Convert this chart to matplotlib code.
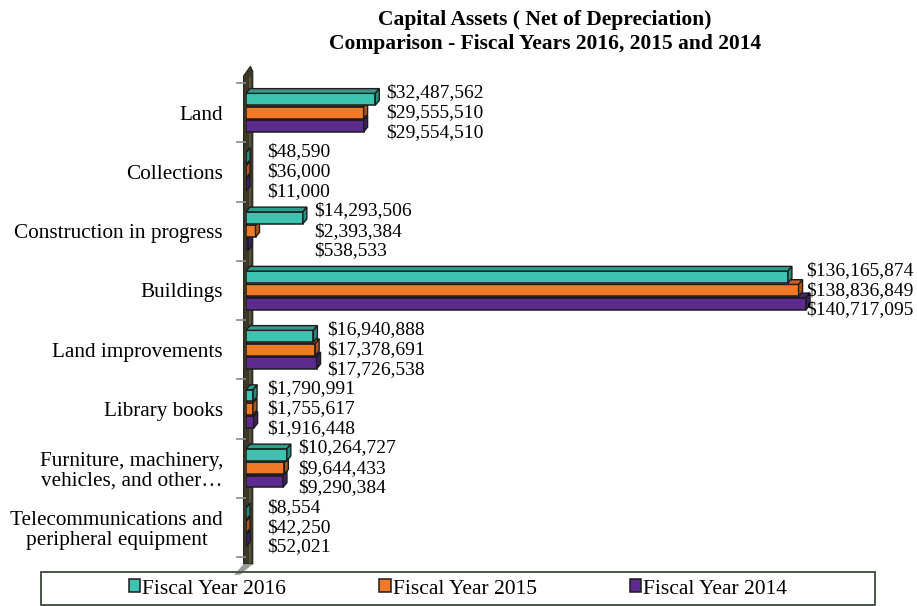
import matplotlib
matplotlib.use("Agg")
import matplotlib.pyplot as plt
import numpy as np
from matplotlib.patches import Polygon, Rectangle, Patch

plt.rcParams['font.family'] = ['Liberation Serif', 'DejaVu Serif']

categories = ["Land", "Collections", "Construction in progress", "Buildings",
              "Land improvements", "Library books",
              "Furniture, machinery,\nvehicles, and other\u2026",
              "Telecommunications and\nperipheral equipment"]
fy2016 = [32487562, 48590, 14293506, 136165874, 16940888, 1790991, 10264727, 8554]
fy2015 = [29555510, 36000, 2393384, 138836849, 17378691, 1755617, 9644433, 42250]
fy2014 = [29554510, 11000, 538533, 140717095, 17726538, 1916448, 9290384, 52021]
series_names = ["Fiscal Year 2016", "Fiscal Year 2015", "Fiscal Year 2014"]

colors = ['#3ec3b1', '#f07a26', '#5b2c8e']
side_colors = ['#2a8a7c', '#b0561a', '#3d1f63']
top_colors = ['#2f9c8d', '#c7621e', '#47236f']

W, H = 917, 606
fig = plt.figure(figsize=(W / 100, H / 100), dpi=100)
ax = fig.add_axes([246 / W, 1 - 557 / H, 597 / W, 474 / H])

xmax = 150e6
ax.set_xlim(0, xmax)
ax.set_ylim(len(categories) - 0.5, -0.5)

y = np.arange(len(categories))
h = 0.2
offsets = [-0.225, 0.0, 0.225]
dx = 1.0e6
dy = 0.08

# back wall
wall = Polygon([(-0.6e6, -0.62), (1.1e6, -0.78), (1.7e6, -0.7), (1.7e6, 7.62), (-0.6e6, 7.62)],
               closed=True, facecolor='#3b3828', edgecolor='#24221a', lw=0.8,
               zorder=1, clip_on=False)
ax.add_patch(wall)
ax.add_patch(Rectangle((0.8e6, -0.6), 0.5e6, 8.2, facecolor='#57533d', edgecolor='none',
                       zorder=1, clip_on=False))
floor = Polygon([(-0.6e6, 7.62), (1.7e6, 7.62), (-1.5e6, 7.8), (-3.0e6, 7.8)],
                closed=True, facecolor='#9a9a9a', edgecolor='none', zorder=1, clip_on=False)
ax.add_patch(floor)

all_series = [fy2016, fy2015, fy2014]
# draw from bottom (purple) to top (teal)
for s in [2, 1, 0]:
    vals = all_series[s]
    z = 3 + (2 - s)
    yc = y + offsets[s]
    ax.barh(yc, vals, height=h, color=colors[s], edgecolor='#1c1c1c', lw=1.1, zorder=z)
    for yi, v in zip(yc, vals):
        y0 = yi - h / 2
        top = Polygon([(0, y0), (v, y0), (v + dx, y0 - dy), (dx, y0 - dy)], closed=True,
                      facecolor=top_colors[s], edgecolor='#1c1c1c', lw=1.0, zorder=z)
        side = Polygon([(v, y0), (v, y0 + h), (v + dx, y0 + h - dy), (v + dx, y0 - dy)],
                       closed=True, facecolor=side_colors[s], edgecolor='#1c1c1c',
                       lw=1.0, zorder=z)
        ax.add_patch(top)
        ax.add_patch(side)

# data labels
label_off = [-0.34, 0.0, 0.33]
labels = []
for i in range(len(categories)):
    gmax = max(fy2016[i], fy2015[i], fy2014[i])
    lx = max(gmax + dx, 3.5e6)
    for s in range(3):
        v = all_series[s][i]
        t = ax.annotate(f"${v:,.0f}", xy=(lx, y[i] + label_off[s]),
                        xytext=(5, 0), textcoords='offset points',
                        ha='left', va='center', fontsize=14, zorder=10,
                        annotation_clip=False)
        labels.append(t)

ax.set_yticks(y)
ax.set_yticklabels(categories, fontsize=15.3, multialignment='center', linespacing=1.05)
ax.tick_params(axis='y', which='major', length=0, pad=16.5)
ax.set_yticks(np.arange(len(categories) + 1) - 0.5, minor=True)
ax.tick_params(axis='y', which='minor', length=7, color='#8a8a8a', width=1.2)
ax.set_xticks([])
for sp in ax.spines.values():
    sp.set_visible(False)
ax.patch.set_visible(False)

fig.text(545 / W, 1 - 20 / H, "Capital Assets ( Net of Depreciation)", ha='center',
         va='center', fontsize=15.5, fontweight='bold')
fig.text(545 / W, 1 - 44 / H, "Comparison - Fiscal Years 2016, 2015 and 2014",
         ha='center', va='center', fontsize=15.5, fontweight='bold')

# legend
handles = [Patch(facecolor=c, edgecolor='#1c1c1c', lw=1.1) for c in colors]
fig.legend(handles, series_names, loc='center', bbox_to_anchor=(458 / W, 17 / H),
           ncol=3, frameon=False, fontsize=15.5, handlelength=0.55, handleheight=0.55,
           handletextpad=0.1, columnspacing=4.3)
fig.patches.append(Rectangle((41 / W, 1 / H), 834 / W, 33 / H, transform=fig.transFigure,
                             facecolor='none', edgecolor='#3a4a3a', lw=1.3))

# keep labels that would run past the right edge inside the figure
fig.canvas.draw()
r = fig.canvas.get_renderer()
for t in labels:
    bb = t.get_window_extent(r)
    over = bb.x1 - (W - 3)
    if over > 0:
        t.xyann = (5 - over * 72 / 100, 0)

fig.savefig("out.png", dpi=100)
